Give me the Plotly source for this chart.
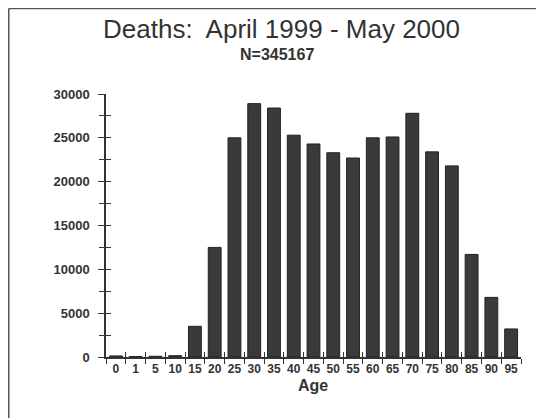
import plotly.graph_objects as go

ages = ["0", "1", "5", "10", "15", "20", "25", "30", "35", "40", "45",
        "50", "55", "60", "65", "70", "75", "80", "85", "90", "95"]
deaths = [120, 60, 80, 150, 3500, 12500, 25000, 28900, 28400, 25300, 24300,
          23300, 22700, 25000, 25100, 27800, 23400, 21800, 11700, 6800, 3200]
title_text = "Deaths:  April 1999 - May 2000"
subtitle_text = "N=345167"
x_title = "Age"
y_ticks = [0, 5000, 10000, 15000, 20000, 25000, 30000]
y_ticklabels = ["0", "5000", "10000", "15000", "20000", "25000", "30000"]

FONT = "Liberation Sans, Arial, sans-serif"
INK = "#333333"

fig = go.Figure()
fig.add_trace(go.Bar(
    x=ages, y=deaths,
    marker=dict(color="#3a3a3a", line=dict(color="#222222", width=1)),
    width=0.65,
))

# the page body has an 8px default margin, so the figure is offset by 8px
fig.update_layout(
    width=536, height=410,
    margin=dict(l=98, r=23, t=86, b=61),
    paper_bgcolor="white", plot_bgcolor="white",
    showlegend=False,
    font=dict(family=FONT, color=INK),
    xaxis=dict(
        type="category", categoryorder="array", categoryarray=ages,
        range=[-0.5, 20.5],
        showline=True, linecolor=INK, linewidth=1.5,
        ticks="outside", ticklen=5, tickcolor=INK, tickwidth=1,
        tickson="boundaries", tickangle=0, automargin=False,
        showgrid=False, zeroline=False,
        tickfont=dict(family=FONT, size=12, color=INK, weight="bold"),
    ),
    xaxis2=dict(
        overlaying="x", range=[-0.5, 20.5], tick0=-0.5, dtick=1,
        ticks="inside", ticklen=5, tickcolor=INK, tickwidth=1,
        showticklabels=False, showgrid=False, zeroline=False, showline=False,
        automargin=False,
    ),
    yaxis=dict(
        range=[0, 30000],
        tickvals=y_ticks, ticktext=y_ticklabels,
        showline=True, linecolor=INK, linewidth=1.5,
        ticks="outside", ticklen=6, tickcolor=INK, tickwidth=1,
        minor=dict(dtick=2500, ticks="outside", ticklen=5, tickcolor=INK, tickwidth=1),
        showgrid=False, zeroline=False, automargin=False,
        ticklabelstandoff=6,
        tickfont=dict(family=FONT, size=13, color=INK, weight="bold"),
    ),
    yaxis2=dict(
        overlaying="y", range=[0, 30000], tick0=0, dtick=2500,
        ticks="inside", ticklen=5, tickcolor=INK, tickwidth=1,
        showticklabels=False, showgrid=False, zeroline=False, showline=False,
        automargin=False,
    ),
)

# invisible trace to anchor the overlay axes
fig.add_trace(go.Scatter(x=[0], y=[0], xaxis="x2", yaxis="y2",
                         mode="markers", marker=dict(opacity=0),
                         hoverinfo="skip"))

fig.add_annotation(text=title_text, xref="paper", yref="paper",
                   x=0.4217, y=1.247, xanchor="center", yanchor="middle",
                   showarrow=False,
                   font=dict(family=FONT, size=26, color=INK))
fig.add_annotation(text=subtitle_text, xref="paper", yref="paper",
                   x=0.411, y=1.150, xanchor="center", yanchor="middle",
                   showarrow=False,
                   font=dict(family=FONT, size=16, color=INK, weight="bold"))
fig.add_annotation(text=x_title, xref="paper", yref="paper",
                   x=0.499, y=-0.110, xanchor="center", yanchor="middle",
                   showarrow=False,
                   font=dict(family=FONT, size=16, color=INK, weight="bold"))

# page frame (left and top edges)
fig.add_shape(type="line", xref="paper", yref="paper",
              x0=-0.2343, x1=-0.2343, y0=-0.235, y1=1.325,
              line=dict(color="#555555", width=1.5))
fig.add_shape(type="line", xref="paper", yref="paper",
              x0=-0.2343, x1=1.06, y0=1.325, y1=1.325,
              line=dict(color="#555555", width=1.5))

fig.write_html("out.html")
